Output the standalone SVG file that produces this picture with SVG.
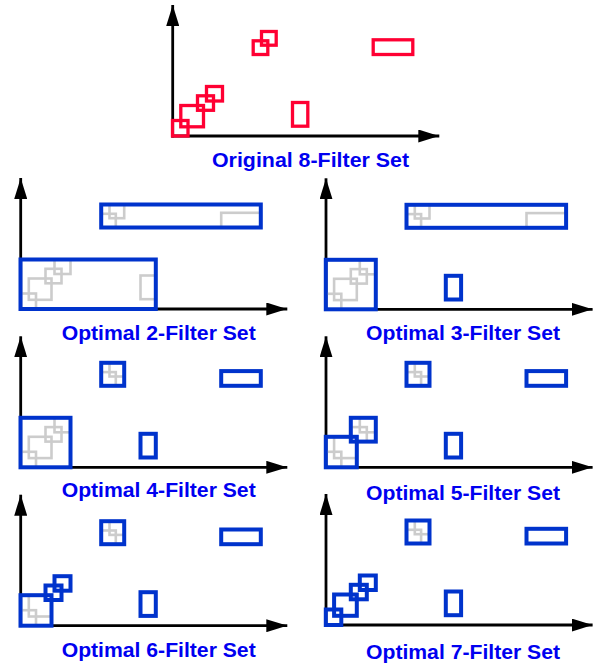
<svg xmlns="http://www.w3.org/2000/svg" xmlns:xlink="http://www.w3.org/1999/xlink" width="598" height="666" viewBox="0 0 598 666">
<style>
.ax{stroke:#000;stroke-width:2.8;fill:none;marker-end:url(#arr)}
.red{fill:none;stroke:#FF0033;stroke-width:3.3}
.gray{fill:none;stroke:#CCCCCC;stroke-width:2.6}
.blue{fill:none;stroke:#0033CC;stroke-width:4}
.lbl{font-family:"Liberation Sans",Arial,sans-serif;font-weight:bold;font-size:21px;fill:#0000F0}
</style>
<defs>
<marker id="arr" markerUnits="userSpaceOnUse" markerWidth="21" markerHeight="13" refX="21" refY="6.5" orient="auto">
<path d="M0,0 L21,6.5 L0,13 z" fill="#000"/>
</marker>
<g id="filters">
<rect x="172.5" y="120.5" width="15.5" height="15.5"/>
<rect x="180.8" y="105.5" width="22.7" height="21.3"/>
<rect x="197.5" y="95.8" width="16" height="14.5"/>
<rect x="206.5" y="86.5" width="16" height="14.5"/>
<rect x="253.2" y="40.8" width="14.6" height="13.7"/>
<rect x="261.5" y="31.5" width="14.7" height="13.7"/>
<rect x="373.2" y="39.8" width="39.6" height="14.7"/>
<rect x="292.5" y="102.5" width="15.3" height="23.7"/>
</g>
<g id="axes">
<line x1="172.7" y1="137.4" x2="172.7" y2="5"/>
<line x1="171.3" y1="136" x2="439.3" y2="136"/>
</g>
</defs>

<g id="original">
<use xlink:href="#axes" class="ax"/>
<use xlink:href="#filters" class="red"/>
<text class="lbl" x="212" y="166.5" textLength="197" lengthAdjust="spacingAndGlyphs">Original 8-Filter Set</text>
</g>

<g id="opt2">
<g transform="translate(-152,173)">
<use xlink:href="#axes" class="ax"/>
<use xlink:href="#filters" class="gray"/>
<rect class="blue" x="172.5" y="86.5" width="135.3" height="49.5"/>
<rect class="blue" x="253.2" y="31.5" width="159.6" height="23"/>
</g>
<text class="lbl" x="61.7" y="340" textLength="194" lengthAdjust="spacingAndGlyphs">Optimal 2-Filter Set</text>
</g>

<g id="opt3">
<g transform="translate(153.3,173.3)">
<use xlink:href="#axes" class="ax"/>
<use xlink:href="#filters" class="gray"/>
<rect class="blue" x="172.5" y="86.5" width="50" height="49.5"/>
<rect class="blue" x="253.2" y="31.5" width="159.6" height="23"/>
<rect class="blue" x="292.5" y="102.5" width="15.3" height="23.7"/>
</g>
<text class="lbl" x="366" y="340" textLength="194" lengthAdjust="spacingAndGlyphs">Optimal 3-Filter Set</text>
</g>

<g id="opt4">
<g transform="translate(-152,331.3)">
<use xlink:href="#axes" class="ax"/>
<use xlink:href="#filters" class="gray"/>
<rect class="blue" x="172.5" y="86.5" width="50" height="49.5"/>
<rect class="blue" x="253.2" y="31.5" width="23" height="23"/>
<rect class="blue" x="373.2" y="39.8" width="39.6" height="14.7"/>
<rect class="blue" x="292.5" y="102.5" width="15.3" height="23.7"/>
</g>
<text class="lbl" x="61.7" y="496.7" textLength="194" lengthAdjust="spacingAndGlyphs">Optimal 4-Filter Set</text>
</g>

<g id="opt5">
<g transform="translate(153.3,331.3)">
<use xlink:href="#axes" class="ax"/>
<use xlink:href="#filters" class="gray"/>
<rect class="blue" x="172.5" y="105.5" width="31" height="30.5"/>
<rect class="blue" x="197.5" y="86.5" width="25" height="23.8"/>
<rect class="blue" x="253.2" y="31.5" width="23" height="23"/>
<rect class="blue" x="373.2" y="39.8" width="39.6" height="14.7"/>
<rect class="blue" x="292.5" y="102.5" width="15.3" height="23.7"/>
</g>
<text class="lbl" x="366" y="500" textLength="194" lengthAdjust="spacingAndGlyphs">Optimal 5-Filter Set</text>
</g>

<g id="opt6">
<g transform="translate(-152,489.7)">
<use xlink:href="#axes" class="ax"/>
<use xlink:href="#filters" class="gray"/>
<rect class="blue" x="172.5" y="105.5" width="31" height="30.5"/>
<rect class="blue" x="197.5" y="95.8" width="16" height="14.5"/>
<rect class="blue" x="206.5" y="86.5" width="16" height="14.5"/>
<rect class="blue" x="253.2" y="31.5" width="23" height="23"/>
<rect class="blue" x="373.2" y="39.8" width="39.6" height="14.7"/>
<rect class="blue" x="292.5" y="102.5" width="15.3" height="23.7"/>
</g>
<text class="lbl" x="61.7" y="656.7" textLength="194" lengthAdjust="spacingAndGlyphs">Optimal 6-Filter Set</text>
</g>

<g id="opt7">
<g transform="translate(153.3,489)">
<use xlink:href="#axes" class="ax"/>
<use xlink:href="#filters" class="gray"/>
<rect class="blue" x="172.5" y="120.5" width="15.5" height="15.5"/>
<rect class="blue" x="180.8" y="105.5" width="22.7" height="21.3"/>
<rect class="blue" x="197.5" y="95.8" width="16" height="14.5"/>
<rect class="blue" x="206.5" y="86.5" width="16" height="14.5"/>
<rect class="blue" x="253.2" y="31.5" width="23" height="23"/>
<rect class="blue" x="373.2" y="39.8" width="39.6" height="14.7"/>
<rect class="blue" x="292.5" y="102.5" width="15.3" height="23.7"/>
</g>
<text class="lbl" x="366" y="659.3" textLength="194" lengthAdjust="spacingAndGlyphs">Optimal 7-Filter Set</text>
</g>
</svg>
